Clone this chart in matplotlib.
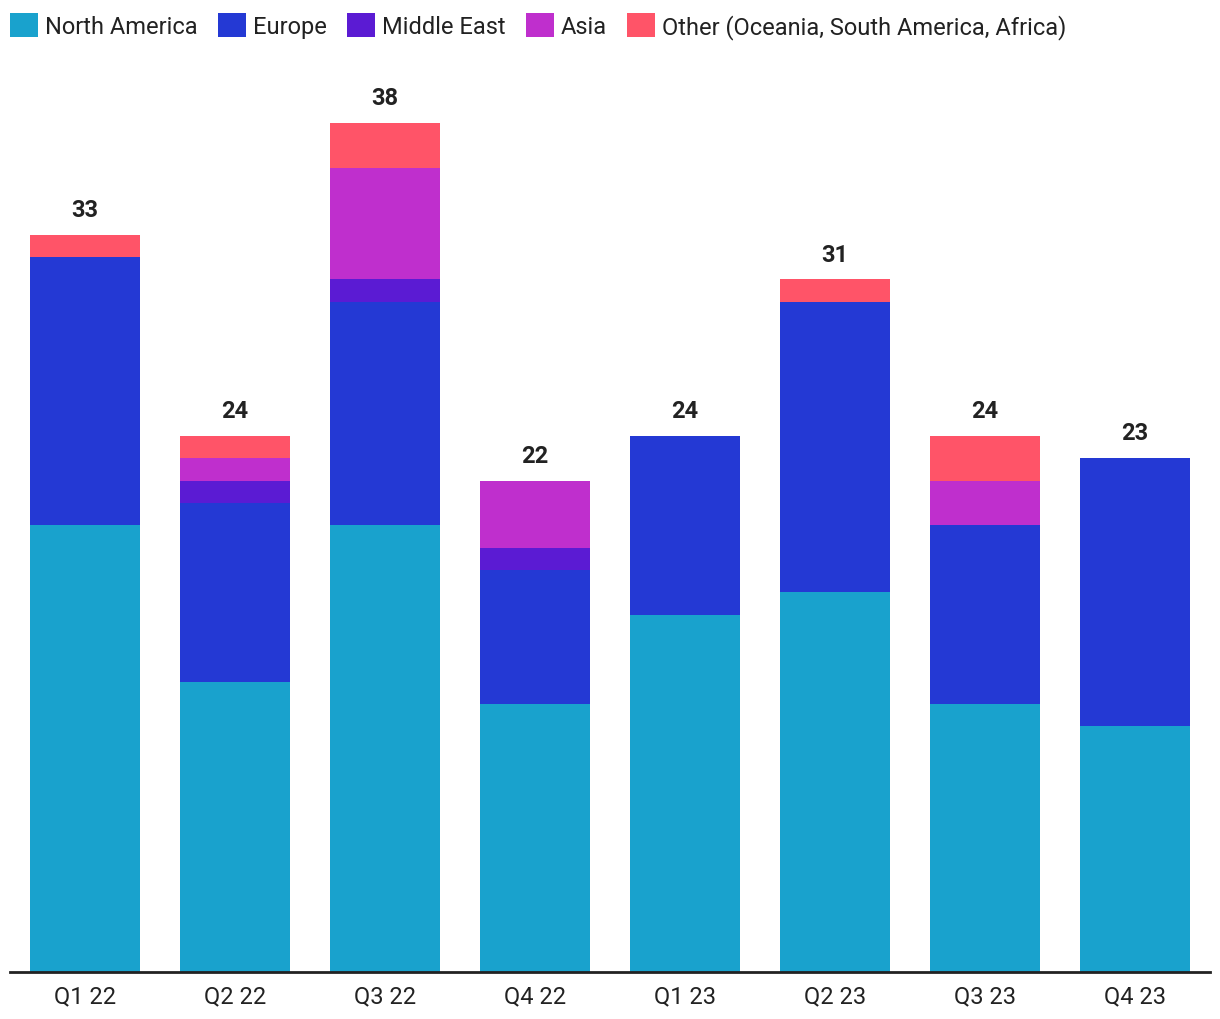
import matplotlib
matplotlib.use("Agg")
import matplotlib.pyplot as plt
from matplotlib.patches import Patch
import numpy as np

plt.rcParams['font.family'] = ['Roboto', 'DejaVu Sans']

quarters = ["Q1 22", "Q2 22", "Q3 22", "Q4 22", "Q1 23", "Q2 23", "Q3 23", "Q4 23"]
north_america = [20, 13, 20, 12, 16, 17, 12, 11]
europe        = [12,  8, 10,  6,  8, 13,  8, 12]
middle_east   = [ 0,  1,  1,  1,  0,  0,  0,  0]
asia          = [ 0,  1,  5,  3,  0,  0,  2,  0]
other         = [ 1,  1,  2,  0,  0,  1,  2,  0]

series_names = ["North America", "Europe", "Middle East", "Asia",
                "Other (Oceania, South America, Africa)"]
colors = ["#19A2CD", "#2439D4", "#5B1BD3", "#BF2FCD", "#FF5468"]

fig = plt.figure(figsize=(12.2, 10.2), dpi=100)
ax = fig.add_axes([10/1220, 47/1020, 1200/1220, (973-80)/1020])

x = np.arange(len(quarters))
bottom = np.zeros(len(quarters))
for vals, c in zip([north_america, europe, middle_east, asia, other], colors):
    v = np.array(vals, dtype=float)
    ax.bar(x, v, bottom=bottom, width=110/150, color=c, linewidth=0)
    bottom += v

for xi, tot in zip(x, bottom):
    ax.annotate(f"{int(tot)}", (xi, tot), xytext=(0, 10), textcoords="offset points",
                ha="center", va="bottom", fontsize=17, fontweight="bold", color="#222222")

ax.set_xlim(-0.5, len(quarters) - 0.5)
ax.set_ylim(0, (973-80)/22.34)
ax.set_xticks(x)
ax.set_xticklabels(quarters, fontsize=17, color="#222222")
ax.tick_params(axis="x", length=0, pad=9)
ax.set_yticks([])
for s in ["top", "right", "left"]:
    ax.spines[s].set_visible(False)
ax.spines["bottom"].set_color("#222222")
ax.spines["bottom"].set_linewidth(2)

handles = [Patch(facecolor=c, edgecolor="none") for c in colors]
fig.legend(handles, series_names, loc="upper left", bbox_to_anchor=(10/1220 - 0.006, 1 - 7/1020),
           ncol=5, frameon=False, fontsize=17, handlelength=1.19, handleheight=1.19,
           handletextpad=0.29, columnspacing=0.86, borderaxespad=0, borderpad=0.3,
           labelcolor="#222222")

fig.savefig("out.png", dpi=100)
